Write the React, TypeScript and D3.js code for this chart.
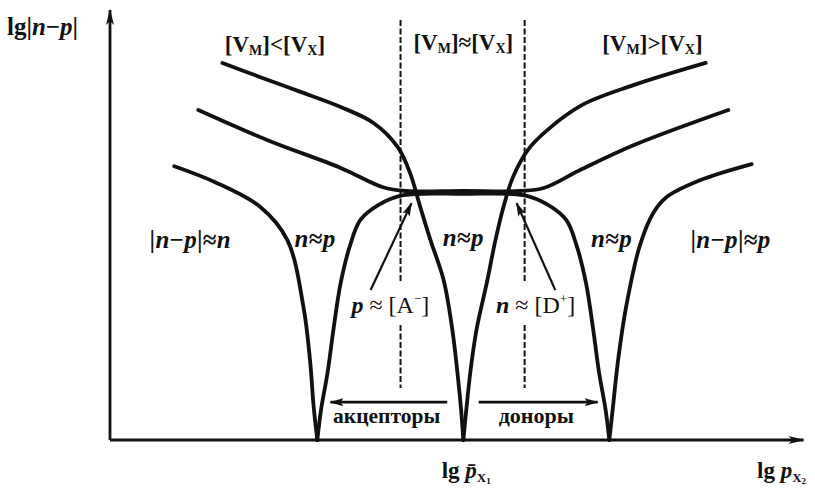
import React from 'react';
import * as d3 from 'd3';

// lg|n-p| versus lg p_X2 (arbitrary log units)
const curveUpperLeft: [number, number][] = [
  [-3.3, 8.98], [-2.78, 8.64], [-2.23, 8.29], [-1.68, 7.93], [-1.23, 7.55], [-0.9, 6.98],
  [-0.73, 6.36], [-0.59, 5.55], [-0.45, 4.76], [-0.27, 3.81], [-0.15, 2.62], [-0.07, 1.43],
  [-0.03, 0.71], [0, 0],
];
const curveUpperRight: [number, number][] = [
  [0, 0], [0.04, 0.71], [0.1, 1.67], [0.18, 2.62], [0.33, 3.81], [0.44, 4.76], [0.55, 5.55],
  [0.68, 6.26], [0.88, 6.9], [1.15, 7.38], [1.63, 7.98], [2.33, 8.45], [3.32, 8.98],
];
const curveMiddle: [number, number][] = [
  [-3.63, 7.86], [-2.68, 7.14], [-1.68, 6.48], [-1.1, 6.02], [-0.79, 5.93], [0, 5.93],
  [0.78, 5.93], [1.1, 6.0], [1.6, 6.43], [2.33, 7.02], [3.63, 7.86],
];
const curveLowerLeft: [number, number][] = [
  [-3.96, 6.52], [-3.4, 6.14], [-2.78, 5.55], [-2.41, 4.76], [-2.19, 3.17], [-2.1, 1.9],
  [-2.05, 0.79], [-2.0, 0],
];
const curveLowerArch: [number, number][] = [
  [-2.0, 0], [-1.95, 0.71], [-1.86, 1.6], [-1.78, 2.62], [-1.68, 3.74], [-1.55, 4.64],
  [-1.41, 5.24], [-1.16, 5.6], [-0.82, 5.83], [0, 5.86], [0.82, 5.83], [1.16, 5.6],
  [1.41, 5.24], [1.55, 4.64], [1.68, 3.74], [1.78, 2.62], [1.86, 1.6], [1.95, 0.71], [2.0, 0],
];
const curveLowerRight: [number, number][] = [
  [2.0, 0], [2.05, 0.79], [2.12, 1.9], [2.23, 3.17], [2.42, 4.64], [2.6, 5.4], [2.79, 5.79],
  [3.25, 6.19], [3.95, 6.57],
];

const boundaries = [-0.86, 0.84];
const pointerArrows: [number, number][][] = [
  [[-1.27, 3.57], [-0.71, 5.64]],
  [[1.26, 3.57], [0.73, 5.64]],
];
const rangeArrows: [number, number][][] = [
  [[-0.22, 0.9], [-1.82, 0.9]],
  [[0.21, 0.9], [1.84, 0.9]],
];

const W = 815;
const H = 488;

const x = d3.scaleLinear().domain([-4.84, 4.66]).range([110, 803.5]);
const y = d3.scaleLinear().domain([0, 10.24]).range([440, 10]);

const line = d3
  .line<[number, number]>()
  .x(d => x(d[0]))
  .y(d => y(d[1]))
  .curve(d3.curveCatmullRom.alpha(0.5));

const font = '"Liberation Serif", "DejaVu Serif", serif';

const Sub = ({ t }: { t: string }) => (
  <>
    <tspan fontSize={14} dy={3}>{t}</tspan>
    <tspan dy={-3}>]</tspan>
  </>
);

export default function App() {
  const curves = [curveUpperLeft, curveUpperRight, curveMiddle, curveLowerLeft, curveLowerArch, curveLowerRight];
  const lbl = { fontFamily: font, fontWeight: 700, fontSize: 23, fill: '#111' } as const;
  const it = { fontStyle: 'italic' } as const;
  const region = { ...lbl, fontSize: 25, letterSpacing: 0.3 } as const;

  return (
    <svg width={W} height={H} style={{ position: 'absolute', left: 0, top: 0, background: '#fff' }}>
      <defs>
        <marker id="axisHead" viewBox="0 0 16 8" refX={15} refY={4} markerWidth={18} markerHeight={8}
          orient="auto" markerUnits="userSpaceOnUse">
          <path d="M0,0 L16,4 L0,8 L4,4 Z" fill="#111" />
        </marker>
        <marker id="head" viewBox="0 0 14 8" refX={13} refY={4} markerWidth={14} markerHeight={8}
          orient="auto" markerUnits="userSpaceOnUse">
          <path d="M0,0 L14,4 L0,8 L3,4 Z" fill="#111" />
        </marker>
      </defs>

      {/* axes */}
      <line x1={x(-4.84)} y1={y(0)} x2={x(4.66)} y2={y(0)} stroke="#111" strokeWidth={2.8}
        markerEnd="url(#axisHead)" />
      <line x1={x(-4.84)} y1={y(0)} x2={x(-4.84)} y2={y(10.24)} stroke="#111" strokeWidth={2.8}
        markerEnd="url(#axisHead)" />

      {/* region boundaries */}
      {boundaries.map((b, i) => (
        <g key={i} stroke="#111" strokeWidth={2} strokeDasharray="6,2.5">
          <line x1={x(b)} x2={x(b)} y1={y(10)} y2={y(3.74)} />
          <line x1={x(b)} x2={x(b)} y1={y(2.74)} y2={y(1.24)} />
        </g>
      ))}

      {curves.map((c, i) => (
        <path key={i} d={line(c) ?? ''} fill="none" stroke="#111" strokeWidth={3.8}
          strokeLinecap="round" strokeLinejoin="round" />
      ))}

      {pointerArrows.map((a, i) => (
        <line key={i} x1={x(a[0][0])} y1={y(a[0][1])} x2={x(a[1][0])} y2={y(a[1][1])}
          stroke="#111" strokeWidth={2.2} markerEnd="url(#head)" />
      ))}
      {rangeArrows.map((a, i) => (
        <line key={i} x1={x(a[0][0])} y1={y(a[0][1])} x2={x(a[1][0])} y2={y(a[1][1])}
          stroke="#111" strokeWidth={2.8} markerEnd="url(#head)" />
      ))}

      {/* axis titles */}
      <text x={x(-4.84) - 103} y={35} {...lbl} fontSize={25}>
        lg|<tspan {...it}>n</tspan>−<tspan {...it}>p</tspan>|
      </text>
      <text x={x(0.04)} y={478} textAnchor="middle" {...lbl} fontSize={23}>
        lg <tspan {...it}>p&#x0304;</tspan>
        <tspan fontSize={13} dy={4}>X</tspan><tspan fontSize={9} dy={2}>1</tspan>
      </text>
      <text x={757} y={478} {...lbl} fontSize={23}>
        lg <tspan {...it}>p</tspan>
        <tspan fontSize={13} dy={4}>X</tspan><tspan fontSize={9} dy={2}>2</tspan>
      </text>

      {/* vacancy regimes */}
      <text x={x(-2.58)} y={y(9.24)} textAnchor="middle" {...lbl}>
        [V<Sub t="M" />&lt;[V<Sub t="X" />
      </text>
      <text x={x(0)} y={y(9.29)} textAnchor="middle" {...lbl}>
        [V<Sub t="M" />≈[V<Sub t="X" />
      </text>
      <text x={x(2.59)} y={y(9.26)} textAnchor="middle" {...lbl}>
        [V<Sub t="M" />&gt;[V<Sub t="X" />
      </text>

      {/* conduction regimes */}
      <text x={x(-3.74)} y={y(4.57)} textAnchor="middle" {...region}>
        |<tspan {...it}>n</tspan>−<tspan {...it}>p</tspan>|≈<tspan {...it}>n</tspan>
      </text>
      <text x={x(-2.03)} y={y(4.6)} textAnchor="middle" {...region}>
        <tspan {...it}>n</tspan>≈<tspan {...it}>p</tspan>
      </text>
      <text x={x(0)} y={y(4.62)} textAnchor="middle" {...region}>
        <tspan {...it}>n</tspan>≈<tspan {...it}>p</tspan>
      </text>
      <text x={x(2.03)} y={y(4.6)} textAnchor="middle" {...region}>
        <tspan {...it}>n</tspan>≈<tspan {...it}>p</tspan>
      </text>
      <text x={x(3.66)} y={y(4.57)} textAnchor="middle" {...region}>
        |<tspan {...it}>n</tspan>−<tspan {...it}>p</tspan>|≈<tspan {...it}>p</tspan>
      </text>

      <text x={x(-1.0)} y={y(3.02)} textAnchor="middle" {...lbl} fontSize={24} fontWeight={400}>
        <tspan {...it} fontWeight={700}>p</tspan> ≈ [A<tspan fontSize={13} dy={-10}>−</tspan><tspan dy={10}>]</tspan>
      </text>
      <text x={x(0.99)} y={y(3.02)} textAnchor="middle" {...lbl} fontSize={24} fontWeight={400}>
        <tspan {...it} fontWeight={700}>n</tspan> ≈ [D<tspan fontSize={13} dy={-10}>+</tspan><tspan dy={10}>]</tspan>
      </text>

      <text x={x(-1.05)} y={y(0.4)} textAnchor="middle" {...lbl} fontSize={21.5}>акцепторы</text>
      <text x={x(1.0)} y={y(0.4)} textAnchor="middle" {...lbl} fontSize={22}>доноры</text>
    </svg>
  );
}
